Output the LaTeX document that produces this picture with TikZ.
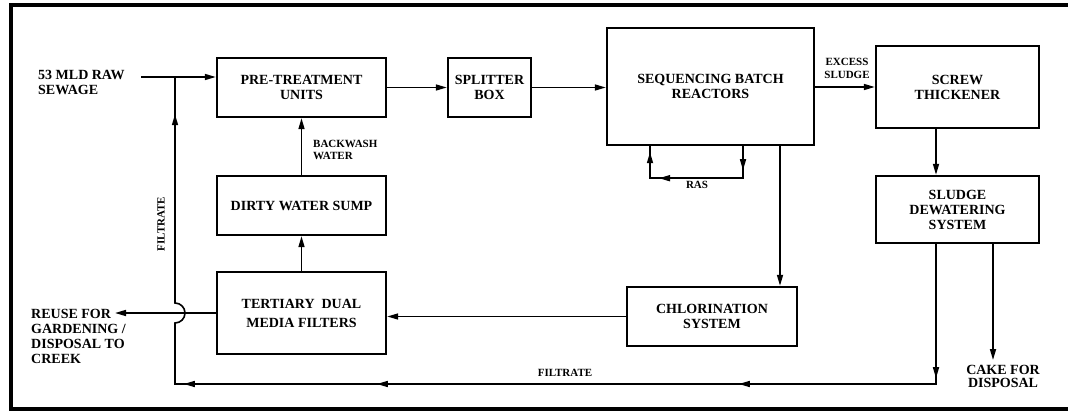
\documentclass[tikz,border=0pt]{standalone}
\usepackage{fontspec}
\setmainfont{Liberation Serif}
\usetikzlibrary{arrows.meta,decorations.markings}
\newcommand\diagmain{\fontsize{14}{15}\selectfont\bfseries}
\newcommand\diagsmall{\fontsize{11}{12.5}\selectfont\bfseries}
\tikzset{
  box/.style={draw, line width=2.4pt, align=center, font=\diagmain, inner sep=0pt},
  lbl/.style={align=left, font=\diagmain, inner sep=0pt},
  slbl/.style={align=left, font=\diagsmall, inner sep=0pt},
  flow/.style={line width=1.6pt},
  tipd/.style={-{Triangle[length=11pt,width=6pt]}},
}
\begin{document}
\begin{tikzpicture}[x=1pt,y=-1pt]
\useasboundingbox (0,0) rectangle (1068,412);
% frame (right side cut off)
\draw[line width=3.5pt] (1068,5) -- (11,5) -- (11,409) -- (1068,409);

% boxes
\node[box, minimum width=169pt, minimum height=59pt] (pre) at (301.5,87.5) {PRE-TREATMENT\\UNITS};
\node[box, minimum width=83pt, minimum height=59pt] (split) at (489.5,87.5) {SPLITTER\\BOX};
\node[box, minimum width=207pt, minimum height=117pt] (sbr) at (710.5,86.5) {SEQUENCING BATCH\\REACTORS};
\node[box, minimum width=163pt, minimum height=82pt] (screw) at (957.5,87) {SCREW\\THICKENER};
\node[box, minimum width=163pt, minimum height=67pt] (sdw) at (957.5,209.5) {SLUDGE\\DEWATERING\\SYSTEM};
\node[box, minimum width=170pt, minimum height=59pt] (chl) at (712,316.5) {CHLORINATION\\SYSTEM};
\node[box, minimum width=169pt, minimum height=82pt, font=\fontsize{14}{19}\selectfont\bfseries] (ter) at (301.5,313) {TERTIARY~ DUAL\\MEDIA FILTERS};
\node[box, minimum width=169pt, minimum height=59pt] (dws) at (301.5,205.5) {DIRTY WATER SUMP};

% labels
\node[lbl, anchor=west] (raw) at (38,82.5) {53 MLD RAW\\SEWAGE};
\node[lbl, anchor=west] (reuse) at (31,336) {REUSE FOR\\GARDENING /\\DISPOSAL TO\\CREEK};
\node[slbl, rotate=90] (filtv) at (161,224) {FILTRATE};
\node[slbl, anchor=west] (bw) at (313,150) {BACKWASH\\WATER};
\node[slbl, align=center] (exc) at (847,68.5) {EXCESS\\SLUDGE};
\node[slbl] (ras) at (697,185) {RAS};
\node[slbl] (filth) at (565,373) {FILTRATE};
\node[lbl, align=center, font=\fontsize{14}{13.5}\selectfont\bfseries] (cake) at (1003,376.5) {CAKE FOR\\DISPOSAL};

% coordinates
\coordinate (rawstart) at (141,77);
\coordinate (fjoin) at (175,77);
\coordinate (reuseend) at (115,313);
\coordinate (fdtop) at ([xshift=-21.5pt]sdw.south);
\coordinate (fcorner) at (936,384);
\coordinate (fleft) at (175,384);
\coordinate (bumpbot) at (175,323);
\coordinate (cktop) at ([xshift=35.5pt]sdw.south);
\coordinate (ckend) at (993,360);
\coordinate (sbrdown) at ([xshift=69.5pt]sbr.south);
\coordinate (rasR) at ([xshift=32.5pt]sbr.south);
\coordinate (rasRb) at ([xshift=32.5pt,yshift=-32pt]sbr.south);
\coordinate (rasLb) at ([xshift=-60.5pt,yshift=-32pt]sbr.south);
\coordinate (rasL) at ([xshift=-60.5pt]sbr.south);

% connectors
\draw[flow,tipd] (rawstart) -- (rawstart -| pre.west);
\draw[flow,tipd] (pre.east) -- (split.west);
\draw[flow,tipd] (split.east) -- (split.east -| sbr.west);
\draw[flow,tipd] (screw.west -| sbr.east) -- (screw.west);
\draw[flow,tipd] (screw.south -| fdtop) -- (sdw.north -| fdtop);
\draw[flow,tipd] (sbrdown) -- (sbrdown |- chl.north);
\draw[flow,tipd] (chl.west) -- (chl.west -| ter.east);
\draw[flow,tipd] (ter.west) -- (reuseend);
\draw[flow,tipd] (ter.north) -- (dws.south);
\draw[flow,tipd] (dws.north) -- (pre.south);
\draw[flow,tipd] (cktop) -- (ckend);
% RAS loop
\draw[flow,
  postaction={decorate,decoration={markings,
    mark=at position 24pt with {\arrow{Triangle[length=11pt,width=6pt]}},
    mark=at position 116pt with {\arrow{Triangle[length=11pt,width=6pt]}},
    mark=at position 151pt with {\arrow{Triangle[length=11pt,width=6pt]}}}}]
  (rasR) -- (rasRb) -- (rasLb) -- (rasL);
% filtrate return
\draw[flow,
  postaction={decorate,decoration={markings,
    mark=at position 134pt with {\arrow{Triangle[length=11pt,width=6pt]}},
    mark=at position 337pt with {\arrow{Triangle[length=11pt,width=6pt]}},
    mark=at position 699pt with {\arrow{Triangle[length=11pt,width=6pt]}},
    mark=at position 892pt with {\arrow{Triangle[length=11pt,width=6pt]}},
    mark=at position 1182pt with {\arrow{Triangle[length=11pt,width=6pt]}}}}]
  (fdtop) -- (fcorner) -- (fleft) -- (bumpbot)
  arc[start angle=90, end angle=-90, radius=10] -- (fjoin);
\end{tikzpicture}
\end{document}
